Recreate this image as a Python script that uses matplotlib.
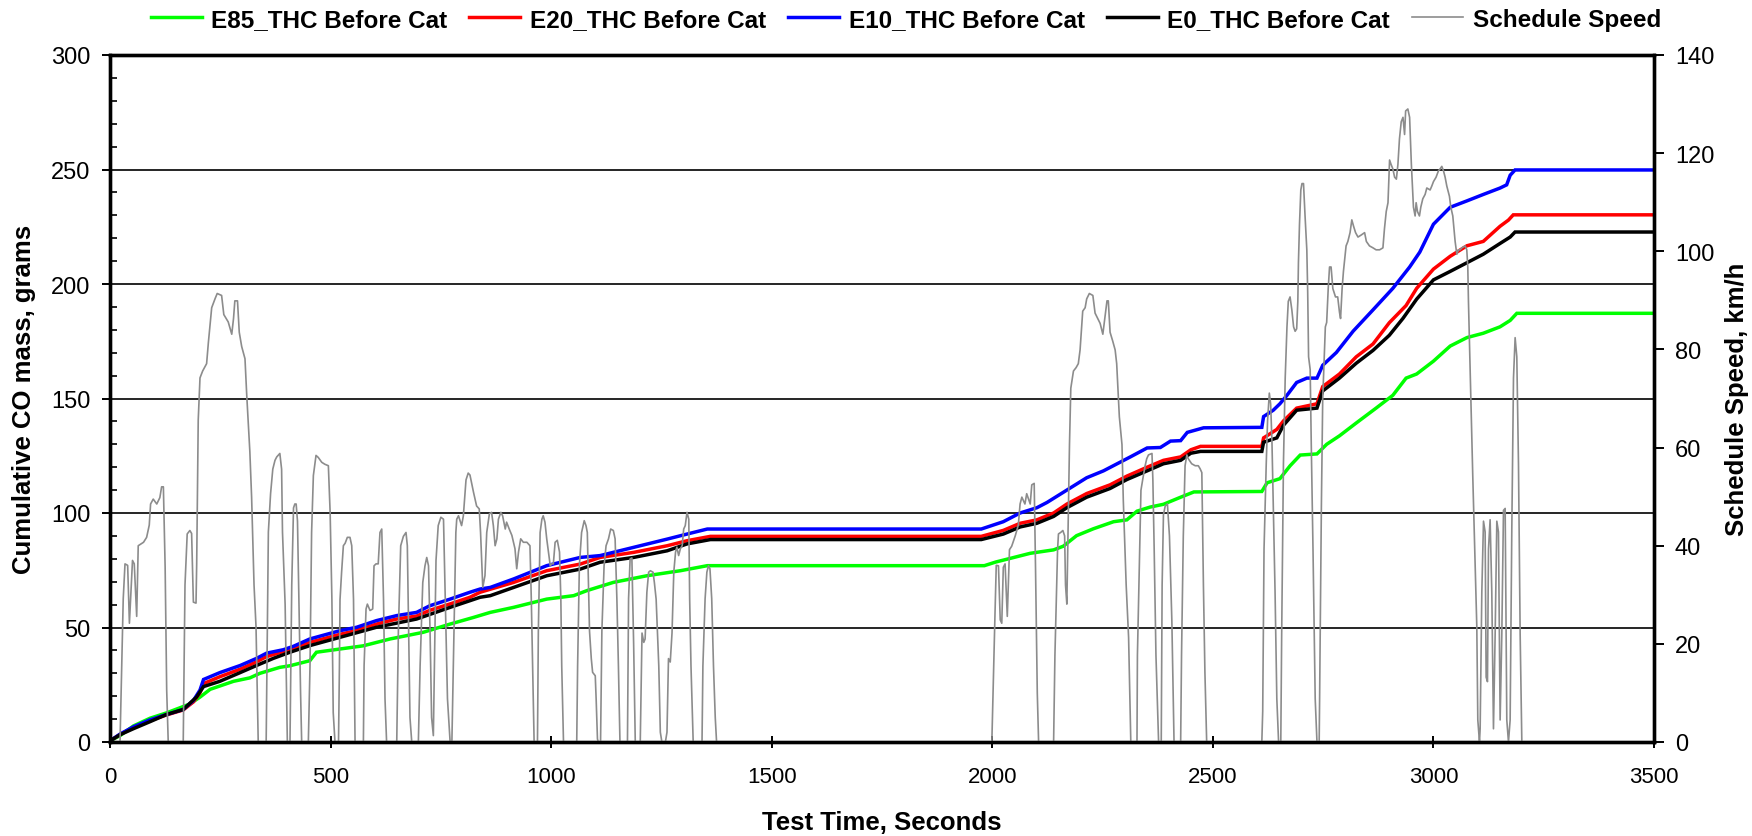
import numpy as np
import matplotlib
matplotlib.use("Agg")
import matplotlib.pyplot as plt
from matplotlib.ticker import MultipleLocator

plt.rcParams["font.family"] = ["Liberation Sans", "DejaVu Sans"]

# ---- data: (time s, cumulative grams) ----
E85_THC = [(0, 0.5), (23, 2.8), (53, 7.0), (91, 10.4), (128, 12.7), (181, 16.6), (204, 19.6),
           (227, 23.0), (280, 26.5), (317, 28.0), (340, 30.0), (385, 32.6), (408, 33.3), (453, 35.5),
           (468, 39.2), (521, 40.6), (574, 42.0), (635, 45.0), (710, 47.9), (771, 51.5), (824, 54.4),
           (862, 56.6), (915, 58.8), (990, 62.4), (1051, 63.9), (1081, 66.1), (1141, 69.7),
           (1217, 72.6), (1293, 74.8), (1354, 77.0), (1982, 77.0), (2008, 78.6), (2039, 80.1),
           (2086, 82.4), (2139, 83.9), (2161, 85.5), (2191, 90.1), (2229, 93.1), (2275, 96.2),
           (2305, 97.0), (2328, 100.8), (2358, 102.6), (2388, 103.8), (2427, 106.9), (2457, 109.2),
           (2611, 109.4), (2623, 113.2), (2652, 115.0), (2675, 120.6), (2698, 125.3), (2736, 125.8),
           (2758, 130.0), (2787, 133.7), (2825, 139.3), (2870, 145.8), (2908, 151.4), (2938, 158.9),
           (2962, 160.7), (3000, 166.3), (3038, 172.9), (3076, 176.6), (3113, 178.5), (3151, 181.3),
           (3174, 184.1), (3189, 187.2), (3500, 187.2)]

E20_THC = [(0, 0.5), (23, 3.3), (53, 6.4), (91, 9.4), (128, 11.8), (166, 14.0), (189, 17.5),
           (204, 21.5), (212, 25.5), (249, 28.5), (295, 31.8), (332, 35.0), (355, 37.3), (393, 39.5),
           (416, 40.8), (453, 43.5), (521, 47.0), (559, 48.7), (604, 51.5), (650, 53.7), (695, 55.0),
           (725, 57.5), (771, 60.3), (816, 63.2), (839, 65.4), (915, 69.7), (990, 74.8), (1066, 77.7),
           (1111, 80.6), (1187, 82.8), (1263, 85.7), (1308, 87.9), (1361, 89.8), (1975, 89.8),
           (2025, 92.4), (2063, 95.5), (2101, 97.0), (2139, 100.0), (2169, 103.9), (2214, 108.5),
           (2267, 112.3), (2305, 116.1), (2351, 120.0), (2388, 123.0), (2427, 124.5), (2450, 127.6),
           (2472, 129.1), (2611, 129.1), (2615, 132.8), (2645, 136.5), (2660, 140.2), (2690, 145.8),
           (2736, 147.7), (2749, 155.2), (2787, 160.7), (2825, 168.2), (2863, 173.8), (2900, 183.1),
           (2938, 190.6), (2962, 198.1), (3000, 206.5), (3038, 212.1), (3076, 216.7), (3113, 218.6),
           (3151, 225.2), (3170, 227.9), (3181, 230.2), (3500, 230.2)]

E10_THC = [(0, 0.5), (23, 3.5), (53, 6.6), (91, 9.7), (128, 12.0), (166, 14.2), (189, 18.1),
           (204, 22.7), (212, 27.3), (249, 30.3), (295, 33.4), (332, 36.5), (355, 38.8), (393, 40.3),
           (416, 41.8), (453, 45.0), (521, 48.6), (559, 50.1), (604, 53.0), (650, 55.2), (695, 56.6),
           (725, 59.5), (771, 62.4), (816, 65.4), (839, 66.8), (862, 67.5), (915, 71.2), (990, 77.0),
           (1066, 80.6), (1111, 81.4), (1187, 85.0), (1263, 88.6), (1308, 90.8), (1354, 93.0),
           (1975, 93.0), (2025, 96.2), (2063, 100.0), (2101, 102.3), (2124, 104.6), (2169, 110.0),
           (2214, 115.4), (2252, 118.4), (2275, 120.7), (2313, 124.5), (2351, 128.4), (2381, 128.6),
           (2404, 131.4), (2427, 131.6), (2442, 135.2), (2479, 137.2), (2611, 137.4), (2615, 142.1),
           (2637, 144.9), (2652, 147.7), (2668, 151.4), (2690, 157.0), (2713, 158.9), (2736, 158.9),
           (2749, 164.5), (2780, 170.1), (2818, 179.4), (2863, 188.7), (2908, 198.1), (2946, 207.4),
           (2969, 213.9), (3000, 226.1), (3038, 233.5), (3076, 236.3), (3113, 239.1), (3151, 241.9),
           (3166, 243.3), (3174, 247.5), (3185, 249.8), (3500, 249.8)]

E0_THC = [(0, 0.5), (23, 3.2), (53, 5.8), (91, 8.9), (128, 12.0), (166, 14.2), (196, 19.6),
          (212, 24.2), (249, 26.5), (295, 30.3), (332, 33.4), (370, 36.5), (408, 39.2), (453, 42.1),
          (521, 45.7), (604, 50.1), (695, 53.7), (771, 58.8), (839, 63.2), (862, 63.9), (915, 67.5),
          (990, 72.6), (1066, 75.5), (1111, 78.5), (1187, 80.6), (1263, 83.5), (1308, 86.5),
          (1361, 88.4), (1975, 88.4), (2025, 90.8), (2063, 93.9), (2101, 95.5), (2139, 98.5),
          (2169, 102.3), (2214, 106.9), (2267, 110.7), (2305, 114.6), (2351, 118.4), (2388, 121.5),
          (2427, 123.0), (2450, 126.1), (2472, 126.9), (2611, 126.9), (2615, 130.9), (2645, 132.8),
          (2660, 138.3), (2690, 144.9), (2736, 145.8), (2749, 153.3), (2787, 158.9), (2825, 165.4),
          (2863, 171.0), (2900, 177.6), (2931, 185.0), (2962, 193.4), (3000, 201.8), (3038, 205.5),
          (3076, 209.3), (3113, 213.0), (3151, 217.7), (3174, 220.5), (3185, 222.7), (3500, 222.7)]

# ---- schedule speed (time s, km/h) ----
SCHEDULE_SPEED = [
    (0, 0), (22.7, 0), (30, 29.2), (34, 36.3), (40, 36), (44, 24.2), (51, 37), (55, 36.3), (60.5, 25.6),
    (64, 40), (76, 40.7), (83, 41.7), (89, 44.2), (92, 48.5), (98, 49.5), (106, 48.5), (113, 49.8),
    (117, 52), (121, 52), (125, 35.6), (128.5, 10.6), (132, 0),
    (166, 0), (170, 32), (175, 42.4), (181, 43.1), (185, 42.5), (189, 28.5), (195, 28.3), (196.5, 36.3),
    (200, 65.6), (204, 74.2), (210, 75.6), (219, 77.1), (223, 81.4), (230.5, 88.5), (238, 90.3),
    (243, 91.4), (253, 91), (258, 87.1), (268, 85.6), (276, 83.1), (280, 86.3), (283, 89.9), (289, 89.9),
    (293, 83.5), (298.5, 80.6), (306, 78.1), (310, 70.6), (317, 59.2), (321, 49.9), (326.5, 32),
    (331, 23.5), (336, 0),
    (354, 0), (359, 42.8), (364, 50.6), (369, 55.6), (374, 57.4), (378, 58.1), (385, 58.8), (389, 55.6),
    (391, 42.8), (397, 28), (402, 0),
    (408, 0), (412, 32), (416, 47.7), (419, 48.5), (422, 48.5), (425, 45), (428, 30), (432, 10), (434.5, 0),
    (449.6, 0), (453.4, 15.6), (457, 42.7), (461, 54.3), (467, 58.4), (472, 58), (480, 57), (487, 56.6),
    (495, 56.3), (499, 46.8), (503, 29.1), (506, 6), (510, 0),
    (518, 0), (520, 15), (521.4, 29), (525, 34.6), (529, 40), (533, 40.5), (538, 41.7), (544, 41.7),
    (548, 40), (552, 29.1), (555.5, 0),
    (574.4, 0), (576, 15.6), (580.4, 27.1), (583.4, 28.1), (589.5, 26.8), (595.5, 27.1), (598.5, 35.9),
    (603, 36.3), (608, 36.3), (612, 42.7), (616, 43.4), (620, 29.1), (623.4, 8.8), (627, 0),
    (650, 0), (653.7, 22.6), (659, 40), (665, 41.9), (671, 42.7), (674, 40), (677, 22.6), (680, 5), (684, 0),
    (699, 0), (703, 15.6), (709, 32.5), (714, 35.9), (718, 37.6), (722, 35.9), (725.5, 22.6), (729, 5),
    (733, 1.3), (739, 37), (744, 44.1), (750, 45.8), (756, 45.4), (760, 29.1), (765, 8.8), (771, 0),
    (775, 0), (784, 42.7), (786, 45.4), (790, 46.1), (797, 44.1), (801, 46.1), (807, 53.4), (812, 54.8),
    (816, 54.4), (824, 50.9), (831, 48.1), (837, 47.5), (840, 42.7), (845, 31.5), (850, 33.9), (854, 42.7),
    (860, 46.5), (865, 46.8), (869, 44.1), (873, 40), (877, 41.4), (880.5, 45.4), (886, 46.8), (890, 46.1),
    (896, 43.4), (899, 44.8), (905, 43.4), (911, 42.1), (914.5, 40.7), (918, 39.4), (922, 35.3),
    (926, 38.7), (931, 41.4), (937, 40.7), (945, 40.7), (952, 40), (955, 29.2), (958, 15.5), (961.4, 0),
    (969, 0), (971, 22.6), (975, 42.7), (979, 45.4), (982, 46.1), (986, 44.8), (990, 41.4), (994, 38.7),
    (998, 35.9), (1001, 36.3), (1005, 36.3), (1009, 40.7), (1014, 41.1), (1019, 38.7), (1022, 29.1),
    (1024, 15.5), (1028, 0),
    (1058, 0), (1060, 15.5), (1064, 35.9), (1069, 42.7), (1075, 45.1), (1079, 44.1), (1082, 42.7),
    (1087, 22.6), (1091, 17), (1094, 14.2), (1100, 13.5), (1102, 8.8), (1105, 0.6), (1107, 0),
    (1112, 0), (1115, 22.6), (1120, 35.9), (1124.5, 40), (1130, 41.4), (1135, 43.4), (1141, 43.1),
    (1145, 41.4), (1149, 29.2), (1152.5, 15.5), (1156, 0),
    (1173, 0), (1175.5, 29.2), (1179, 37.3), (1183, 37.5), (1187, 20), (1190.7, 0),
    (1202, 0), (1206, 22.2), (1210, 20.3), (1213, 21), (1217, 30.5), (1221, 34.6), (1225, 34.9),
    (1231, 34.6), (1234, 32.5), (1238, 29.1), (1244, 15.5), (1247.5, 2), (1251, 0),
    (1259, 0), (1262.6, 2), (1266, 17), (1270, 16.3), (1274, 22.2), (1278, 34.6), (1282, 38.7),
    (1285, 39.7), (1289, 38), (1293, 39.4), (1297, 40), (1300.5, 43.4), (1304, 44.1), (1308, 46.8),
    (1312, 45.4), (1314, 29.2), (1317, 15.5), (1322, 0),
    (1342, 0), (1344, 15.5), (1349, 29.2), (1353, 34.6), (1356.5, 35.9), (1360, 35.3), (1364, 29.2),
    (1368, 15.5), (1372, 5), (1375, 0),
    # hot start
    (1999, 0), (2003, 15), (2006, 25.6), (2009, 36), (2014, 35.9), (2018, 24.9), (2021.5, 24.2),
    (2025, 35.6), (2029, 36.3), (2034, 25.6), (2039, 39.2), (2044, 39.9), (2052, 42), (2059, 44.2),
    (2063, 48.5), (2067, 49.9), (2074, 48.5), (2078, 50.6), (2086, 48.5), (2089.5, 52.4), (2095, 52.7),
    (2098, 35.6), (2102, 10), (2105, 0),
    (2139, 0), (2142, 17.7), (2148, 39.2), (2150, 42.4), (2155, 42.7), (2160, 43.1), (2164, 42),
    (2166, 32), (2169, 28.1), (2170.4, 35.6), (2175, 60.6), (2178, 72.1), (2184, 75.6), (2190, 76.3),
    (2195, 77.1), (2199, 79.9), (2205, 87.8), (2210.5, 88.5), (2214, 90.3), (2220, 91.4), (2228, 91),
    (2233, 87.4), (2238.5, 86.4), (2244.5, 85.3), (2250.6, 83.1), (2256, 87.1), (2260, 89.9),
    (2263, 89.9), (2267, 83.5), (2273, 81.7), (2278.5, 79.9), (2282, 77.1), (2288, 66.3), (2294, 60.6),
    (2297, 49.2), (2303.5, 32), (2309, 21.3), (2314, 0),
    (2328, 0), (2329, 17.7), (2334, 39.2), (2337, 51.3), (2341, 53.5), (2346.5, 56.3), (2350, 57.7),
    (2354, 58.5), (2362, 58.8), (2364, 53.5), (2367, 39.2), (2371, 17.7), (2377, 0),
    (2383, 0), (2385, 32), (2388, 46.3), (2392, 48.1), (2397, 48.5), (2401.6, 42), (2407, 24.9), (2412, 0),
    (2427, 0), (2429, 17.7), (2433, 42), (2437, 56.3), (2441, 58.5), (2444.5, 57.7), (2452, 56.7),
    (2460, 56.3), (2467, 56.3), (2471, 55.7), (2475, 54.9), (2478.6, 32), (2482, 14.2), (2486, 0),
    # high speed section
    (2611, 0), (2613, 6.2), (2616, 39.3), (2621, 56.7), (2624, 65.4), (2628, 71.1), (2631, 68.9),
    (2634, 61.1), (2637, 48), (2641, 30.6), (2645, 8.8), (2649, 0),
    (2654, 0), (2656, 21.9), (2660, 56.7), (2664, 74.2), (2668, 84.6), (2671, 89.8), (2675, 90.7),
    (2679, 88.1), (2683, 84.6), (2686.5, 83.7), (2690, 84.2), (2692.6, 89.8), (2694, 97.7),
    (2696.4, 105.5), (2699.4, 112.5), (2702, 113.8), (2705.5, 113.8), (2709, 107.2), (2713, 100.3),
    (2715, 91.6), (2717, 78.5), (2720.6, 75.9), (2723, 61.1), (2727, 39.3), (2732, 8.8), (2736, 0),
    (2741, 0), (2742, 8.8), (2746, 48), (2749, 69.8), (2755, 84.6), (2758, 85.5), (2761.5, 92.4),
    (2764.5, 96.8), (2768, 96.8), (2772, 92.4), (2778, 90.7), (2783, 90.7), (2787, 87.6), (2789.5, 86.3),
    (2793, 92.4), (2796, 95.9), (2799, 98.5), (2802, 101.1), (2806, 102), (2811, 103.8), (2815, 106.4),
    (2819, 105.1), (2823.5, 103.8), (2829, 102.9), (2836, 103.3), (2844, 103.8), (2848, 102),
    (2855, 101.1), (2863, 100.7), (2870, 100.3), (2878, 100.3), (2885.5, 100.7), (2889, 104.6),
    (2893, 108.1), (2897, 109.9), (2900.6, 118.6), (2904, 117.7), (2908, 116.8), (2912, 115.1),
    (2916, 114.7), (2919.5, 117.7), (2923, 122.9), (2927, 126.4), (2931, 127.3), (2934.6, 123.8),
    (2937, 128.6), (2942, 129), (2946, 127.3), (2950, 117.7), (2954.7, 109), (2958.5, 107.2),
    (2960.8, 109.9), (2963.8, 108.1), (2968.3, 107.2), (2971.4, 109), (2975.9, 110.7), (2981.2, 111.6),
    (2985, 112.9), (2992.5, 112.5), (2996.3, 113.3), (3000.1, 114.2), (3006, 115.1), (3011.4, 116.4),
    (3015.2, 116.8), (3019, 117.3), (3022.8, 116.4), (3026.5, 115.1), (3030.3, 113.3), (3036.3, 111.2),
    (3039.4, 109), (3043.9, 107.2), (3049.2, 102), (3053, 99.4), (3056.8, 100.3), (3060.5, 100.3),
    (3064.3, 100.7), (3071.9, 101.1), (3075.6, 100.3), (3077.9, 96.8), (3079.4, 89.8), (3083.2, 75.9),
    (3089.2, 54.1), (3098.3, 23.6), (3100.6, 4.5), (3104.4, 0), (3105.9, 2.7), (3109.7, 30.6),
    (3113.5, 45), (3117.2, 42.8), (3119.5, 13.2), (3122.5, 12.3), (3124.8, 39.3), (3128.5, 45.3),
    (3132.3, 30.6), (3136.1, 2.7), (3139.9, 21.9), (3143.7, 45), (3147.4, 42.8), (3151.2, 4.5),
    (3155, 21.9), (3158.8, 47.2), (3162.6, 47.6), (3166.3, 4.5), (3170.1, 0), (3173.9, 4.5),
    (3177.7, 43.7), (3181.5, 74.2), (3185.2, 82.4), (3189, 78.5), (3192.8, 56.7), (3196.6, 21.9),
    (3200.4, 0), (3500, 0)]

SERIES = [
    ("E85_THC Before Cat", E85_THC, "#00FF00"),
    ("E20_THC Before Cat", E20_THC, "#FF0000"),
    ("E10_THC Before Cat", E10_THC, "#0000FF"),
    ("E0_THC Before Cat", E0_THC, "#000000"),
]
SPEED_COLOUR = "#8C8C8C"

W, H = 1752, 837
fig = plt.figure(figsize=(W / 100, H / 100), dpi=100)
ax = fig.add_axes([110 / W, 1 - 743 / H, 1544 / W, 687 / H])

handles = []
for label, pts, colour in SERIES:
    t, g = np.array(pts).T
    h, = ax.plot(t, g, color=colour, lw=2.5, label=label, solid_joinstyle="miter")
    handles.append(h)

ax.set_xlim(0, 3500)
ax.set_ylim(0, 300)
ax.xaxis.set_major_locator(MultipleLocator(500))
ax.yaxis.set_major_locator(MultipleLocator(50))
ax.yaxis.set_minor_locator(MultipleLocator(10))
ax.grid(axis="y", which="major", color="black", lw=1.2)

ax2 = ax.twinx()
ts, vs = np.array(SCHEDULE_SPEED).T
hs, = ax2.plot(ts, vs, color=SPEED_COLOUR, lw=1.2, label="Schedule Speed")
handles.append(hs)
ax2.set_ylim(0, 140)
ax2.yaxis.set_major_locator(MultipleLocator(20))

for a in (ax, ax2):
    for sp in a.spines.values():
        sp.set_linewidth(2.4)
        sp.set_color("black")

ax.tick_params(axis="x", which="major", direction="inout", length=8, width=1.4,
               labelsize=16, pad=13)
ax.tick_params(axis="y", which="major", direction="out", length=6, width=1.4,
               labelsize=17, pad=8)
ax.tick_params(axis="y", which="minor", direction="in", length=5, width=1.2)
ax2.tick_params(axis="y", which="major", direction="out", length=7, width=1.4,
                labelsize=17, pad=8)

ax.set_xlabel("Test Time, Seconds", fontsize=18.5, fontweight="bold", labelpad=17)
ax.set_ylabel("Cumulative CO mass, grams", fontsize=18.5, fontweight="bold")
ax.yaxis.set_label_coords(-0.048, 0.5)
ax2.set_ylabel("Schedule Speed, km/h", fontsize=18.5, fontweight="bold")
ax2.yaxis.set_label_coords(1.046, 0.5)

fig.legend(handles=handles, labels=[h.get_label() for h in handles],
           loc="center", bbox_to_anchor=(0.517, 0.976), ncol=5, frameon=False,
           prop={"size": 17.5, "weight": "bold"}, handlelength=2.1,
           handletextpad=0.4, columnspacing=0.9)

fig.savefig("out.png", dpi=100)
